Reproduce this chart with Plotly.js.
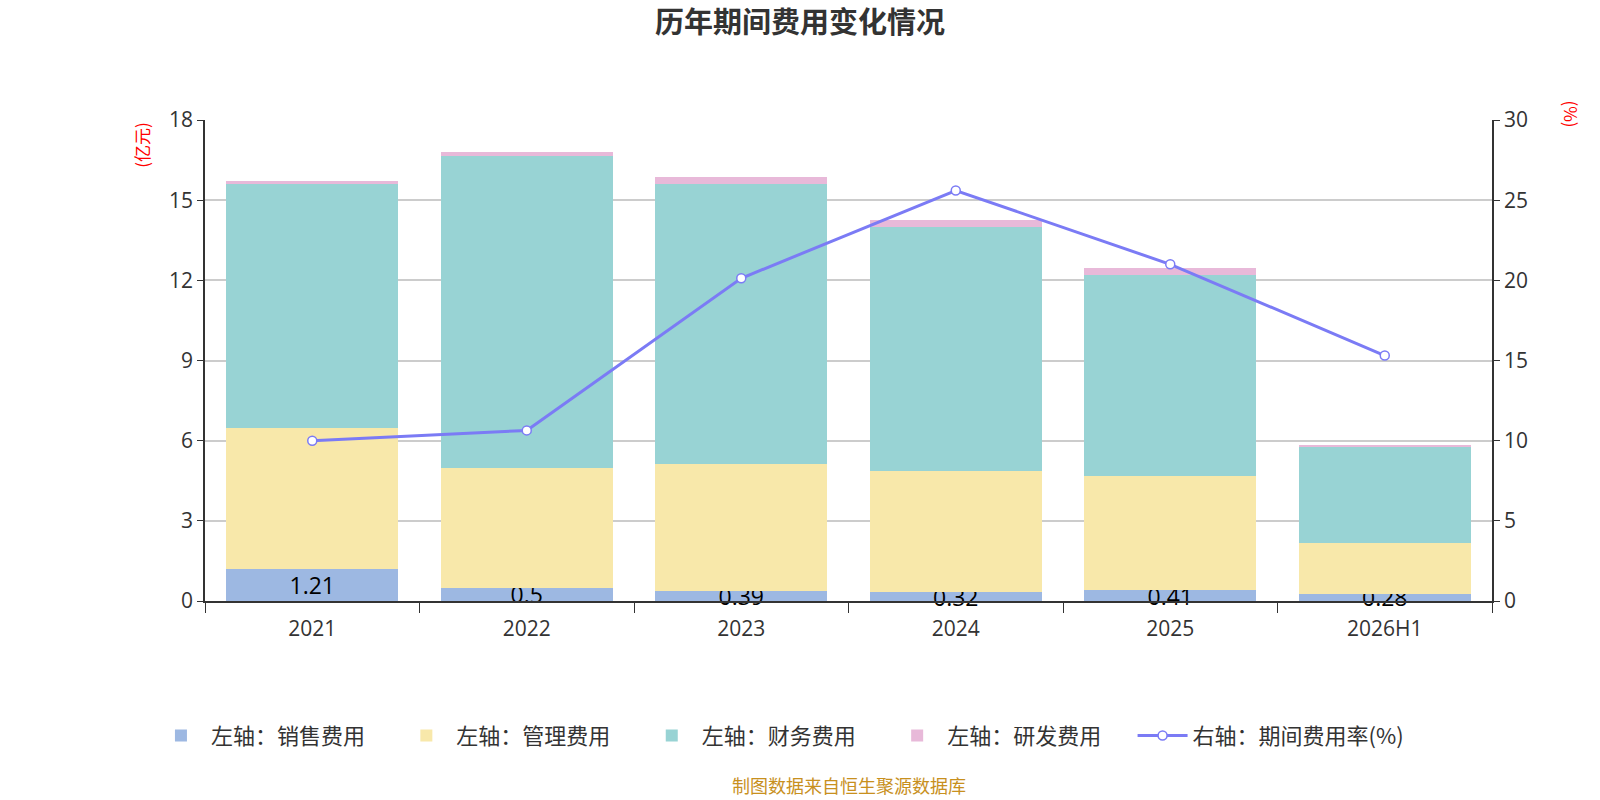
<!DOCTYPE html>
<html>
<head>
<meta charset="utf-8">
<script src="https://cdn.plot.ly/plotly-3.0.1.min.js"></script>
<style>
  html, body { margin: 0; padding: 0; background: #fff; }
  #chart { width: 1600px; height: 800px; }
</style>
</head>
<body>
<div id="chart"></div>
<script>
// 历年期间费用变化情况
var years = ["2021", "2022", "2023", "2024", "2025", "2026H1"];
var sales = [1.21, 0.5, 0.39, 0.32, 0.41, 0.28];       // 销售费用 (亿元)
var admin = [5.25, 4.47, 4.73, 4.53, 4.25, 1.90];      // 管理费用
var finance = [9.13, 11.68, 10.47, 9.15, 7.53, 3.58];  // 财务费用
var rnd = [0.11, 0.15, 0.26, 0.26, 0.28, 0.09];        // 研发费用
var rate = [10.0, 10.64, 20.13, 25.6, 21.0, 15.31];    // 期间费用率 (%)

var font = "'Open Sans', 'Noto Sans CJK SC', sans-serif";
var cjk = "'Noto Sans CJK SC', sans-serif";
var pad = "\u2002\u2002\u2009"; // extra gap between legend entries

var data = [
  {
    type: "bar", name: "左轴：销售费用" + pad, x: years, y: sales,
    marker: { color: "#9db8e2" },
    text: sales.map(String), textposition: "inside", insidetextanchor: "middle",
    constraintext: "none", cliponaxis: false,
    textangle: 0, textfont: { size: 23, color: "#000", family: font },
    hoverinfo: "y+name"
  },
  {
    type: "bar", name: "左轴：管理费用" + pad, x: years, y: admin,
    marker: { color: "#f8e8aa" }, hoverinfo: "y+name"
  },
  {
    type: "bar", name: "左轴：财务费用" + pad, x: years, y: finance,
    marker: { color: "#98d3d4" }, hoverinfo: "y+name"
  },
  {
    type: "bar", name: "左轴：研发费用" + pad, x: years, y: rnd,
    marker: { color: "#e8b9d9" }, hoverinfo: "y+name"
  },
  {
    type: "scatter", mode: "lines+markers", name: "右轴：期间费用率(%)",
    x: years, y: rate, yaxis: "y2",
    line: { color: "#7b7bf5", width: 3 },
    marker: { size: 9, color: "#fff", line: { color: "#7b7bf5", width: 1.5 } },
    hoverinfo: "y+name"
  }
];

var layout = {
  width: 1600,
  height: 800,
  barmode: "stack",
  bargap: 0.2,
  paper_bgcolor: "#fff",
  plot_bgcolor: "#fff",
  font: { family: font, color: "#333", size: 21 },
  margin: { l: 205, r: 108, t: 120, b: 199 },
  title: {
    text: "<b>历年期间费用变化情况</b>",
    font: { size: 29, color: "#333", family: cjk },
    x: 0.5, xanchor: "center", y: 0.972, yanchor: "middle"
  },
  xaxis: {
    type: "category",
    showline: true, linecolor: "#333", linewidth: 1.5,
    ticks: "outside", tickson: "boundaries", ticklen: 10, tickcolor: "#333",
    ticklabelstandoff: 8,
    tickfont: { size: 21, color: "#333" },
    showgrid: false
  },
  yaxis: {
    range: [0, 18], dtick: 3,
    showline: true, linecolor: "#333", linewidth: 1.5,
    ticks: "outside", ticklen: 6, tickcolor: "#333",
    gridcolor: "#cccccc", gridwidth: 1.5,
    zeroline: false,
    tickfont: { size: 21, color: "#333" }
  },
  yaxis2: {
    overlaying: "y", side: "right",
    range: [0, 30], dtick: 5,
    showline: true, linecolor: "#333", linewidth: 1.5,
    ticks: "outside", ticklen: 6, tickcolor: "#333",
    showgrid: false, zeroline: false,
    tickfont: { size: 21, color: "#333" }
  },
  legend: {
    orientation: "h",
    x: -0.042, xanchor: "left",
    y: -0.28, yanchor: "middle",
    font: { size: 22, color: "#333", family: cjk },
    itemwidth: 50,
    traceorder: "normal"
  },
  annotations: [
    {
      text: "(亿元)", xref: "paper", yref: "paper",
      x: -0.05, y: 1.0, xanchor: "center", yanchor: "top",
      textangle: -90, showarrow: false,
      font: { size: 17, color: "#ff0000", family: cjk }
    },
    {
      text: "(%)", xref: "paper", yref: "paper",
      x: 1.062, y: 1.012, xanchor: "center", yanchor: "middle",
      textangle: 90, showarrow: false,
      font: { size: 17, color: "#ff0000", family: cjk }
    },
    {
      text: "制图数据来自恒生聚源数据库", xref: "paper", yref: "paper",
      x: 0.5, y: -0.383, xanchor: "center", yanchor: "middle",
      showarrow: false,
      font: { size: 18, color: "#c8901e", family: cjk }
    }
  ]
};

Plotly.newPlot("chart", data, layout, { displayModeBar: false });
</script>
</body>
</html>
